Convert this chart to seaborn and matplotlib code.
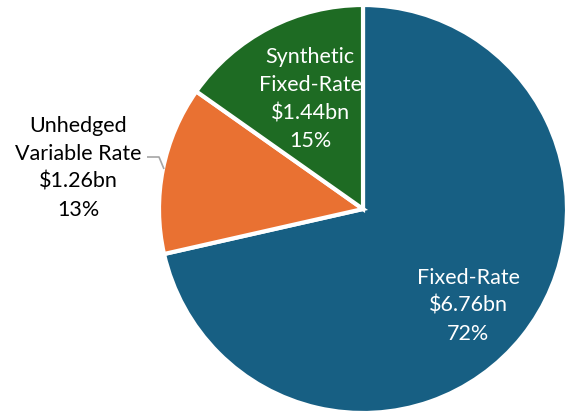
import matplotlib
matplotlib.use('Agg')
import matplotlib.pyplot as plt
import seaborn as sns

sns.set_theme(style='white')
plt.rcParams['font.family'] = ['Lato', 'DejaVu Sans']

# debt mix
categories = ['Fixed-Rate', 'Unhedged\nVariable Rate', 'Synthetic\nFixed-Rate']
amounts_bn = [6.76, 1.26, 1.44]
pct_labels = ['72%', '13%', '15%']
colors = ['#175f83', '#e97132', '#1e6b23']

fig = plt.figure(figsize=(5.66, 4.14), dpi=100)
ax = fig.add_axes([0, 0, 1, 1])

center = (363, 204)
radius = 204
wedges, _ = ax.pie(amounts_bn, colors=colors, startangle=90, counterclock=False,
                   center=center, radius=radius, frame=True,
                   wedgeprops=dict(edgecolor='white', linewidth=3))
ax.set_xlim(0, 566)
ax.set_ylim(0, 414)
ax.set_aspect('equal')
ax.axis('off')

# label positions (pixel coordinates, y up)
label_pos = [(468, 108), (78, 246), (310, 315)]
text_colors = ['white', 'black', 'white']
for cat, amt, pct, pos, tc in zip(categories, amounts_bn, pct_labels, label_pos, text_colors):
    ax.text(pos[0], pos[1], f'{cat}\n${amt:.2f}bn\n{pct}', ha='center', va='center',
            color=tc, fontsize=15.5, linespacing=1.5)

# leader line for the outside label
ax.plot([147, 159, 164], [256, 256, 244], color='#a6a6a6', lw=1.2, solid_capstyle='butt')

fig.savefig('out.png', dpi=100, facecolor='white')
